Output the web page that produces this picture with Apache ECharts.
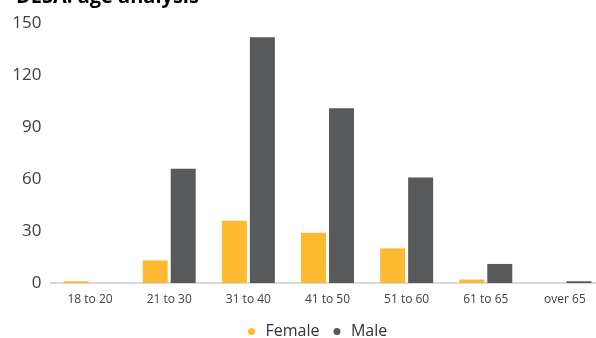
<!DOCTYPE html>
<html><head><meta charset="utf-8">
<script src="https://cdn.jsdelivr.net/npm/echarts@6/dist/echarts.min.js"></script>
<style>html,body{margin:0;padding:0;background:#fff}#c{width:596px;height:338px}</style>
</head><body><div id="c"></div>
<script>
const categories = ['18 to 20','21 to 30','31 to 40','41 to 50','51 to 60','61 to 65','over 65'];
const female = [1, 13, 36, 29, 20, 2, 0];
const male = [0, 66, 142, 101, 61, 11, 1];
const yTicks = [0, 30, 60, 90, 120, 150];

const chart = echarts.init(document.getElementById('c'), null, {renderer:'canvas'});
chart.setOption({
  animation: false,
  title: {
    text: 'DESA: age analysis', left: 11, top: -18,
    textStyle: {fontFamily: 'Open Sans', fontWeight: 'bold', fontSize: 20, color: '#000'}
  },
  legend: {
    data: ['Female','Male'], left: 243, top: 318.5, icon: 'circle',
    itemWidth: 18, itemHeight: 7, itemGap: 14,
    textStyle: {fontFamily: 'Open Sans', fontSize: 16, color: '#333'}
  },
  grid: {left: 50.5, width: 554, top: 23.3, bottom: 55, containLabel: false, outerBoundsMode: 'none'},
  xAxis: {
    type: 'category', data: categories,
    axisLine: {lineStyle: {color: '#d9d9d9', width: 2}},
    axisTick: {show: false},
    axisLabel: {fontFamily: 'Open Sans', fontSize: 12, color: '#404040', margin: 11, interval: 0}
  },
  yAxis: {
    type: 'value', min: yTicks[0], max: yTicks[yTicks.length-1], interval: 30,
    splitLine: {show: false}, axisLine: {show: false}, axisTick: {show: false},
    axisLabel: {fontFamily: 'Open Sans', fontSize: 17, color: '#404040', margin: 9}
  },
  series: [
    {name: 'Female', type: 'bar', data: female, barWidth: 25, barGap: '12%', itemStyle: {color: '#FDB92F'}},
    {name: 'Male', type: 'bar', data: male, barWidth: 25, itemStyle: {color: '#58595B'}}
  ]
});
</script></body></html>
